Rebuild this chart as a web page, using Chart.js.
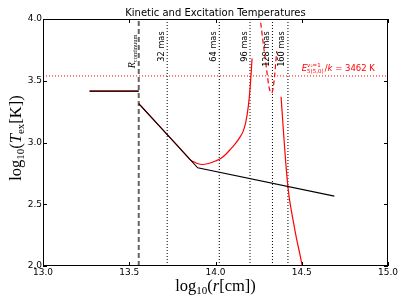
<!DOCTYPE html>
<html><head><meta charset="utf-8">
<script src="https://cdn.jsdelivr.net/npm/chart.js@4.4.0/dist/chart.umd.min.js"></script>
<style>html,body{margin:0;padding:0;background:#fff;}canvas{display:block;}</style>
</head><body>
<canvas id="c" width="407" height="305"></canvas>
<script>
// ---- data ----
const xTicks = [13.0, 13.5, 14.0, 14.5, 15.0];
const yTicks = [2.0, 2.5, 3.0, 3.5, 4.0];
const xTickLabels = ['13.0', '13.5', '14.0', '14.5', '15.0'];
const yTickLabels = ['2.0', '2.5', '3.0', '3.5', '4.0'];

// kinetic temperature (black)
const tkinInnerR = [13.27, 13.555];
const tkinInnerT = [3.416, 3.416];
const tkinR = [13.555, 13.897, 14.689];
const tkinT = [3.315, 2.795, 2.566];

// excitation temperature (red)
const texInnerR = [13.27, 13.555];
const texInnerT = [3.416, 3.416];
const texR = [13.555, 13.65, 13.75, 13.82, 13.86, 13.88, 13.9, 13.92, 13.96, 14.0, 14.03, 14.06, 14.09, 14.115, 14.14, 14.16, 14.175, 14.19, 14.2, 14.207, 14.212];
const texT = [3.315, 3.171, 3.019, 2.912, 2.853, 2.84, 2.828, 2.822, 2.83, 2.85, 2.87, 2.905, 2.95, 2.99, 3.04, 3.09, 3.16, 3.29, 3.43, 3.57, 3.68];
// negative (dashed) branch
const texNegR = [14.262, 14.277, 14.29, 14.30, 14.31, 14.318, 14.326, 14.334, 14.342, 14.35, 14.355];
const texNegT = [3.97, 3.80, 3.66, 3.55, 3.45, 3.41, 3.40, 3.44, 3.53, 3.66, 3.74];
// outer branch
const texOutR = [14.38, 14.39, 14.40, 14.41, 14.42, 14.43, 14.45, 14.47, 14.49, 14.503];
const texOutT = [3.37, 3.17, 2.97, 2.79, 2.64, 2.53, 2.37, 2.22, 2.09, 2.0];

// reference lines
const rContinuum = 13.555;
const masR = [13.72, 14.022, 14.20, 14.33, 14.42];
const masLabels = ['32 mas', '64 mas', '96 mas', '128 mas', '160 mas'];
const eLevel = 3.539; // log10(3462)
const yRange = [2.0, 4.0];
const xRange = [13.0, 15.0];

const pts = (xs, ys) => xs.map((x, i) => ({x: x, y: ys[i]}));

const datasets = [];
datasets.push({data: pts(tkinInnerR, tkinInnerT), borderColor: '#000', borderWidth: 1.1, order: 0});
datasets.push({data: pts(tkinR, tkinT), borderColor: '#000', borderWidth: 1.1, order: 0});
datasets.push({data: pts(texInnerR, texInnerT), borderColor: '#f00', borderWidth: 1.3, order: 1});
datasets.push({data: pts(texR, texT), borderColor: '#f00', borderWidth: 1.2, order: 1, cubicInterpolationMode: 'monotone'});
datasets.push({data: pts(texNegR, texNegT), borderColor: '#f00', borderWidth: 1.2, borderDash: [5, 3], order: 1, cubicInterpolationMode: 'monotone'});
datasets.push({data: pts(texOutR, texOutT), borderColor: '#f00', borderWidth: 1.2, order: 1, cubicInterpolationMode: 'monotone'});
datasets.push({data: pts([rContinuum, rContinuum], yRange), borderColor: '#666', borderWidth: 2, borderDash: [5, 3], order: 3});
masR.forEach(r => datasets.push({data: pts([r, r], yRange), borderColor: '#000', borderWidth: 1, borderDash: [1, 2], order: 4}));
datasets.push({data: pts(xRange, [eLevel, eLevel]), borderColor: '#f00', borderWidth: 1, borderDash: [1, 2], order: 4});
datasets.forEach(d => { d.showLine = true; d.pointRadius = 0; d.fill = false; });

function drawRuns(ctx, runs, x, y, align) {
  let w = 0;
  runs.forEach(r => { ctx.font = r.font; r.w = ctx.measureText(r.t).width; w += r.w; });
  let cx = align === 'center' ? x - w / 2 : (align === 'right' ? x - w : x);
  runs.forEach(r => {
    ctx.font = r.font;
    ctx.fillText(r.t, cx, y + (r.dy || 0));
    cx += r.w;
  });
}

const overlay = {
  id: 'overlay',
  afterDraw(chart) {
    const ctx = chart.ctx, a = chart.chartArea, xs = chart.scales.x, ys = chart.scales.y;
    ctx.save();
    // frame
    ctx.strokeStyle = '#000'; ctx.lineWidth = 1;
    ctx.strokeRect(Math.round(a.left) + 0.5, Math.round(a.top) + 0.5, Math.round(a.right - a.left) - 1, Math.round(a.bottom - a.top) - 1);
    // ticks (inward, all sides)
    ctx.beginPath();
    xTicks.forEach(v => { const p = Math.round(xs.getPixelForValue(v)) + 0.5; ctx.moveTo(p, a.bottom); ctx.lineTo(p, a.bottom - 4); ctx.moveTo(p, a.top); ctx.lineTo(p, a.top + 4); });
    yTicks.forEach(v => { const p = Math.round(ys.getPixelForValue(v)) + 0.5; ctx.moveTo(a.left, p); ctx.lineTo(a.left + 4, p); ctx.moveTo(a.right, p); ctx.lineTo(a.right - 4, p); });
    ctx.stroke();
    // tick labels
    ctx.fillStyle = '#000';
    ctx.font = '9px "DejaVu Sans"';
    ctx.textAlign = 'center'; ctx.textBaseline = 'top';
    xTicks.forEach((v, i) => ctx.fillText(xTickLabels[i], xs.getPixelForValue(v), a.bottom + 2));
    ctx.textAlign = 'right'; ctx.textBaseline = 'middle';
    yTicks.forEach((v, i) => ctx.fillText(yTickLabels[i], a.left - 1, ys.getPixelForValue(v)));
    // title
    ctx.textAlign = 'center'; ctx.textBaseline = 'alphabetic';
    ctx.font = '10px "DejaVu Sans"';
    ctx.fillText('Kinetic and Excitation Temperatures', (a.left + a.right) / 2, a.top - 3);
    // axis labels
    ctx.textAlign = 'left'; ctx.textBaseline = 'alphabetic';
    const big = '16.5px "Liberation Serif"', bigI = 'italic 16.5px "Liberation Serif"', sub = '11px "Liberation Serif"';
    drawRuns(ctx, [{t: 'log', font: big}, {t: '10', font: sub, dy: 3}, {t: '(', font: big}, {t: 'r', font: bigI}, {t: '[cm])', font: big}], (a.left + a.right) / 2, 291, 'center');
    ctx.save();
    ctx.translate(21, 138);
    ctx.rotate(-Math.PI / 2);
    drawRuns(ctx, [{t: 'log', font: big}, {t: '10', font: sub, dy: 3}, {t: '(', font: big}, {t: 'T', font: bigI}, {t: 'ex', font: sub, dy: 3}, {t: '[K])', font: big}], 0, 0, 'center');
    ctx.restore();
    // vertical labels
    const topY = ys.getPixelForValue(3.9);
    ctx.font = '8.2px "DejaVu Sans"';
    masR.forEach((r, i) => {
      ctx.save();
      ctx.translate(xs.getPixelForValue(r) - 1.5, topY);
      ctx.rotate(-Math.PI / 2);
      ctx.textAlign = 'right'; ctx.textBaseline = 'bottom';
      ctx.fillText(masLabels[i], 0, 0);
      ctx.restore();
    });
    ctx.save();
    ctx.translate(xs.getPixelForValue(rContinuum) - 2.5, topY + 3);
    ctx.rotate(-Math.PI / 2);
    ctx.textAlign = 'left'; ctx.textBaseline = 'alphabetic';
    drawRuns(ctx, [{t: 'R', font: 'italic 10px "Liberation Serif"'}, {t: 'continuum', font: '6.5px "Liberation Serif"', dy: 2}], 0, -1, 'right');
    ctx.restore();
    // energy label
    ctx.fillStyle = '#f00';
    ctx.textAlign = 'left'; ctx.textBaseline = 'alphabetic';
    const ex = xs.getPixelForValue(14.5), ey = ys.getPixelForValue(eLevel) - 5;
    ctx.font = 'italic 8.5px "DejaVu Sans"';
    ctx.fillText('E', ex, ey);
    let cx = ex + ctx.measureText('E').width;
    ctx.font = '5.5px "DejaVu Sans"';
    ctx.fillText('v\u2082=1', cx, ey - 4);
    ctx.fillText('5(5,0)', cx, ey + 2);
    cx += Math.max(ctx.measureText('v\u2082=1').width, ctx.measureText('5(5,0)').width) + 1;
    ctx.font = '8.5px "DejaVu Sans"';
    ctx.fillText('/', cx, ey); cx += ctx.measureText('/').width;
    ctx.font = 'italic 8.5px "DejaVu Sans"';
    ctx.fillText('k', cx, ey); cx += ctx.measureText('k').width;
    ctx.font = '8.5px "DejaVu Sans"';
    ctx.fillText(' = 3462 K', cx, ey);
    ctx.restore();
  }
};

new Chart(document.getElementById('c'), {
  type: 'scatter',
  data: {datasets: datasets},
  options: {
    responsive: false, animation: false, devicePixelRatio: 1,
    layout: {padding: {left: 43, right: 19, top: 19, bottom: 39}},
    plugins: {legend: {display: false}, tooltip: {enabled: false}, title: {display: false}},
    scales: {
      x: {type: 'linear', min: xRange[0], max: xRange[1], display: false},
      y: {type: 'linear', min: yRange[0], max: yRange[1], display: false}
    }
  },
  plugins: [overlay]
});
</script>
</body></html>
